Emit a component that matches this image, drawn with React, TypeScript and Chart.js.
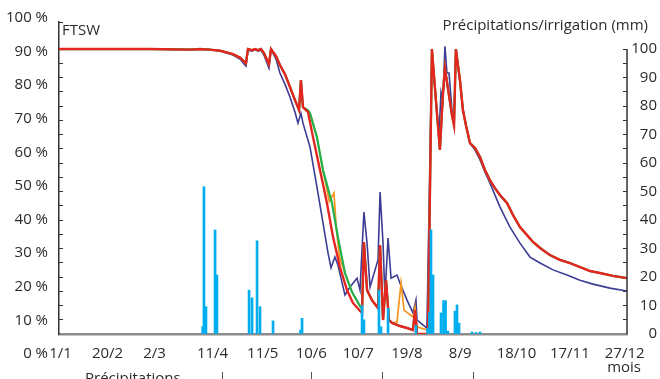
import { useEffect, useRef } from 'react';
import { Chart, registerables } from 'chart.js';

Chart.register(...registerables);

// ---- Data ----
const xTickDays = [1, 31, 61, 98, 130, 161, 191, 222, 256, 292, 326, 361];
const xTickLabels = ['1/1', '20/2', '2/3', '11/4', '11/5', '10/6', '10/7', '19/8', '8/9', '18/10', '17/11', '27/12'];
const leftTickValues = [0, 10, 20, 30, 40, 50, 60, 70, 80, 90, 100];
const rightTickValues = [0, 5, 10, 15, 20, 25, 30, 35, 40, 45, 50, 55, 60, 65, 70, 75, 80, 85, 90, 95, 100];

const ftswRed: [number, number][] = [
  [0, 100], [58, 100], [84, 99.8], [90, 100], [96, 99.8], [103, 99.4], [111, 98.2], [115.5, 97], [119.3, 95],
  [120.6, 100], [123.2, 99.6], [125.1, 100], [127, 99.6], [128.9, 100], [130.8, 98.6], [134, 94.7], [135.3, 100],
  [138.5, 97.5], [141, 94.4], [144.2, 91.2], [147.4, 86.7], [150.6, 82.1], [153.2, 78.6], [154.4, 89.1],
  [155.7, 79.6], [158.9, 77.9], [162.1, 69.1], [166.6, 57.5], [171, 46], [174.9, 34], [179.3, 23.5],
  [183.8, 15.4], [187.6, 10.9], [192.1, 8.1], [193.4, 7.4], [194.6, 32.3], [196.6, 15.4], [199.7, 11.9],
  [203.6, 9.1], [204.9, 31.2], [206.8, 4.9], [208.7, 18.9], [210.6, 4.9], [212.5, 3.9], [217.6, 2.8],
  [222.1, 2.1], [225.9, 1.4], [227.2, 8.4], [228.5, 0], [235.5, 0], [238, 100], [241.2, 77.5], [243.1, 64.6],
  [245, 83.9], [246.3, 93.3], [248.2, 86.3], [250.8, 76.8], [252.1, 73.3], [253.3, 100], [255.9, 89.1],
  [257.8, 78.6], [259.7, 73.3], [262.3, 67], [265.5, 65.3], [268.7, 62.1], [271.9, 57.5], [275, 54],
  [278.2, 51.2], [281.4, 48.8], [285.9, 46], [289.7, 41.8], [294.2, 37.5], [298.7, 34.7], [302.5, 32.3],
  [307, 30.2], [313.3, 27.7], [319.7, 26], [326.1, 24.9], [332.5, 23.5], [338.9, 22.1], [345.2, 21.4],
  [353.5, 20.4], [362.5, 19.6],
];

const ftswGreen: [number, number][] = [
  [0, 100], [58, 100], [84, 99.8], [90, 100], [96, 99.8], [103, 99.4], [111, 98.2], [115.5, 97], [119.3, 95],
  [120.6, 100], [123.2, 99.6], [125.1, 100], [127, 99.6], [128.9, 100], [130.8, 98.6], [134, 94.7], [135.3, 100],
  [138.5, 97.5], [141, 94.4], [144.2, 91.2], [147.4, 86.7], [150.6, 82.1], [153.2, 78.6], [154.4, 89.1],
  [155.7, 79.6], [158.9, 78.5], [160.2, 77.5], [164.6, 69.1], [168.5, 57.5], [174.2, 46], [178, 34],
  [182.5, 21.4], [187, 14.7], [192.1, 9.8], [193.4, 8.8], [194.6, 32.3], [196.6, 15.4], [199.7, 11.9],
  [203.6, 9.1], [204.9, 31.2], [206.8, 4.9], [208.7, 18.9], [210.6, 4.9], [212.5, 3.9], [217.6, 2.8],
  [222.1, 2.1], [225.9, 1.4], [227.2, 8.4], [228.5, 0], [235.5, 0], [238, 100], [241.2, 77.5], [243.1, 64.6],
  [245, 83.9], [246.3, 93.3], [248.2, 86.3], [250.8, 76.8], [252.1, 73.3], [253.3, 100], [255.9, 89.1],
  [257.8, 78.6], [259.7, 73.3], [262.3, 67], [265.5, 65.3], [268.7, 62.1], [271.9, 57.5], [275, 54],
  [278.2, 51.2], [281.4, 48.8], [285.9, 46], [289.7, 41.8], [294.2, 37.5], [298.7, 34.7], [302.5, 32.3],
  [307, 30.2], [313.3, 27.7], [319.7, 26], [326.1, 24.9], [332.5, 23.5], [338.9, 22.1], [345.2, 21.4],
  [353.5, 20.4], [362.5, 19.6],
];

const ftswOrange: [number, number][] = [
  [0, 100], [58, 100], [84, 99.8], [90, 100], [96, 99.8], [103, 99.4], [111, 98.2], [115.5, 97], [119.3, 95],
  [120.6, 100], [123.2, 99.6], [125.1, 100], [127, 99.6], [128.9, 100], [130.8, 98.6], [134, 94.7], [135.3, 100],
  [138.5, 97.5], [141, 94.4], [144.2, 91.2], [147.4, 86.7], [150.6, 82.1], [153.2, 78.6], [154.4, 89.1],
  [155.7, 79.6], [158.9, 78.5], [160.2, 77.5], [164.6, 69.1], [168.5, 57.5], [172.5, 46.5], [175.5, 49.5],
  [177, 37], [179, 27], [182.5, 21.4], [187, 14.7], [192.1, 9.8], [193.4, 8.8], [194.6, 32.3], [196.6, 15.4],
  [199.7, 11.9], [203.6, 9.1], [204.9, 31.2], [206.8, 4.9], [208.7, 18.9], [210.6, 4.9], [212.5, 3.9],
  [215.7, 4.2], [218.3, 17.9], [220.2, 8.4], [225.9, 6], [227.2, 9.5], [228.5, 2.5], [234.8, 1.4],
  [235.5, 1], [238, 100], [241.2, 77.5], [243.1, 64.6], [245, 83.9], [246.3, 93.3], [248.2, 86.3],
  [250.8, 76.8], [252.1, 73.3], [253.3, 100], [255.9, 89.1], [257.8, 78.6], [259.7, 73.3], [262.3, 67],
  [265.5, 65.3], [268.7, 62.1], [271.9, 57.5], [275, 54], [278.2, 51.2], [281.4, 48.8], [285.9, 46],
  [289.7, 41.8], [294.2, 37.5], [298.7, 34.7], [302.5, 32.3], [307, 30.2], [313.3, 27.7], [319.7, 26],
  [326.1, 24.9], [332.5, 23.5], [338.9, 22.1], [345.2, 21.4], [353.5, 20.4], [362.5, 19.6],
];

const ftswBlue: [number, number][] = [
  [0, 100], [58, 100], [84, 99.8], [90, 100], [96, 99.8], [102.7, 99.3], [111, 97.9], [115.5, 96.5],
  [119.3, 94], [120.6, 99.6], [123.2, 99.3], [125.1, 99.8], [127, 99.3], [128.9, 99.6], [130.8, 97.9],
  [134, 93.3], [135.3, 100], [138.5, 96.5], [141, 91.6], [144.2, 87.7], [147.4, 83.2], [150.6, 77.9],
  [152.5, 74], [154.4, 77.5], [155.7, 74], [160.2, 65.6], [164.6, 51.6], [168.5, 38.9], [171.7, 28.4],
  [173.6, 23.2], [176.1, 27], [178, 24.2], [182.5, 13.7], [185.7, 16.5], [190.2, 19.6], [192.1, 15.4],
  [194.6, 42.8], [196.6, 31.9], [198.5, 16.5], [203.6, 26], [204.9, 49.8], [206.8, 31.9], [208, 13],
  [210, 33.7], [211.9, 19.6], [215.7, 20.7], [217.6, 17.9], [222.1, 11.9], [225.9, 7.4], [227.8, 11.9],
  [228.5, 4.9], [234.8, 2.1], [238, 100], [241.2, 77.5], [242.5, 69.8], [243.8, 84.9], [245, 82.1],
  [246.3, 101], [247.6, 91.6], [248.9, 91.6], [250.8, 78.6], [252.1, 75.1], [253.3, 99.6], [255.9, 88.4],
  [257.8, 78.6], [259.7, 73.3], [262.3, 67], [265.5, 64.6], [268.7, 61.1], [271.9, 56.8], [275, 53],
  [281.4, 44.6], [287.8, 37.5], [294.2, 31.9], [300.6, 27], [307, 24.9], [315.3, 22.5], [324.2, 20.7],
  [332.5, 18.9], [340.8, 17.5], [351.6, 16.1], [362.5, 15.1],
];

const rainDays = [
  91.7, 92.5, 93.8, 99.6, 100.8, 121.3, 123.2, 126.4, 128.3, 136.6, 154.1, 155.1, 193.4, 194.6, 204.2,
  205.5, 210, 227.8, 235.2, 236.4, 237.4, 238.7, 243.8, 245.4, 246.7, 248.2, 252.7, 254, 255.3, 263.6,
  266.1, 268.7,
];
const rainMm = [
  2.6, 51.7, 9.6, 36.5, 20.7, 15.4, 12.7, 32.7, 9.6, 4.6, 1.4, 5.5, 10, 5, 15.4,
  2.5, 9, 3, 2, 7.5, 36.5, 20.7, 7.4, 11.7, 11.7, 1, 8, 10.2, 3.8, 0.7,
  0.5, 0.7,
];

const TEXT = '#2b2b2b';
const AXIS = '#333333';
const FONT = '"Open Sans", sans-serif';

const toXY = (arr: [number, number][]) => arr.map(([x, y]) => ({ x, y }));

const decorPlugin = {
  id: 'decor',
  afterDraw(chart: any) {
    const { ctx, chartArea, scales } = chart;
    const y2 = scales.y2;
    ctx.save();
    ctx.strokeStyle = AXIS;
    ctx.lineWidth = 1.5;
    ctx.beginPath();
    ctx.moveTo(y2.left, y2.getPixelForValue(0));
    ctx.lineTo(y2.left, y2.getPixelForValue(100));
    ctx.stroke();

    ctx.fillStyle = TEXT;
    ctx.font = `15px ${FONT}`;
    ctx.textBaseline = 'middle';
    ctx.textAlign = 'left';
    ctx.fillText('FTSW', chartArea.left + 3, 31);
    ctx.textAlign = 'right';
    ctx.fillText('Précipitations/irrigation (mm)', 648, 26);
    ctx.fillText('mois', 641, 368);
    ctx.textAlign = 'left';
    ctx.textBaseline = 'alphabetic';
    ctx.fillText('Précipitations', 85, 383);

    ctx.lineWidth = 1;
    ctx.strokeStyle = '#555';
    [222, 311, 382, 473].forEach((x) => {
      ctx.beginPath();
      ctx.moveTo(x + 0.5, 372);
      ctx.lineTo(x + 0.5, 379);
      ctx.stroke();
    });
    ctx.restore();
  },
};

export default function App() {
  const ref = useRef<HTMLCanvasElement>(null);

  useEffect(() => {
    Chart.defaults.font.family = FONT;
    Chart.defaults.font.size = 15;
    Chart.defaults.color = TEXT;

    const chart = new Chart(ref.current as HTMLCanvasElement, {
      type: 'line',
      data: {
        datasets: [
          {
            type: 'bar',
            label: 'Précipitations',
            data: rainDays.map((d, i) => ({ x: d, y: rainMm[i] })),
            backgroundColor: '#00aeef',
            borderWidth: 0,
            barThickness: 2,
            yAxisID: 'y2',
            order: 0,
          } as any,
          {
            label: 'FTSW rouge',
            data: toXY(ftswRed),
            borderColor: '#e3261f',
            borderWidth: 2.4,
            pointRadius: 0,
            tension: 0,
            yAxisID: 'y',
            order: 1,
          },
          {
            label: 'FTSW vert',
            data: toXY(ftswGreen),
            borderColor: '#22b04b',
            borderWidth: 2.2,
            pointRadius: 0,
            tension: 0,
            yAxisID: 'y',
            order: 2,
          },
          {
            label: 'FTSW orange',
            data: toXY(ftswOrange),
            borderColor: '#f7941e',
            borderWidth: 1.7,
            pointRadius: 0,
            tension: 0,
            yAxisID: 'y',
            order: 3,
          },
          {
            label: 'FTSW bleu',
            data: toXY(ftswBlue),
            borderColor: '#3c3c94',
            borderWidth: 1.6,
            pointRadius: 0,
            tension: 0,
            yAxisID: 'y',
            order: 4,
          },
        ],
      },
      options: {
        animation: false,
        responsive: false,
        events: [],
        layout: { padding: { top: 22, right: 3, left: 0, bottom: 0 } },
        plugins: { legend: { display: false }, tooltip: { enabled: false } },
        scales: {
          x: {
            type: 'linear',
            min: 0,
            max: 362.5,
            offset: false,
            afterFit: (s: any) => { s.height = 45; },
            afterBuildTicks: (s: any) => { s.ticks = xTickDays.map((v) => ({ value: v })); },
            ticks: {
              autoSkip: false,
              maxRotation: 0,
              padding: 11,
              color: TEXT,
              callback: (_v: any, i: number) => xTickLabels[i],
            },
            grid: { display: false, drawTicks: false },
            border: { color: '#8c8c8c', width: 2.5 },
          },
          y: {
            position: 'left',
            weight: 0,
            min: 0,
            max: 109.5,
            afterFit: (s: any) => { s.width = 0; },
            afterBuildTicks: (s: any) => {
              s.ticks = rightTickValues.map((v) => ({ value: v })).concat([{ value: 109.5 }]);
            },
            ticks: { display: false },
            grid: { drawOnChartArea: false, drawTicks: true, tickLength: -4, color: AXIS, lineWidth: 1 },
            border: { color: AXIS, width: 1.5 },
          },
          yLab: {
            position: 'left',
            weight: 1,
            min: 5.95,
            max: 98.8,
            afterFit: (s: any) => { s.width = 59; },
            afterBuildTicks: (s: any) => { s.ticks = leftTickValues.map((v) => ({ value: v })); },
            ticks: { autoSkip: false, padding: 11, color: TEXT, callback: (v: any) => `${v} %` },
            grid: { display: false, drawTicks: false },
            border: { display: false },
          },
          y2: {
            position: 'right',
            min: 0,
            max: 109.5,
            afterFit: (s: any) => { s.width = 30; },
            afterBuildTicks: (s: any) => { s.ticks = rightTickValues.map((v) => ({ value: v })); },
            ticks: {
              autoSkip: false,
              padding: 0,
              crossAlign: 'far',
              color: TEXT,
              callback: (v: any) => (v % 10 === 0 ? String(v) : ''),
            },
            grid: { drawOnChartArea: false, drawTicks: true, tickLength: -4, color: AXIS, lineWidth: 1 },
            border: { display: false },
          },
        } as any,
      },
      plugins: [decorPlugin],
    });
    return () => chart.destroy();
  }, []);

  return (
    <div style={{ position: 'fixed', left: 0, top: 0, width: 660, height: 379, background: '#fff' }}>
      <canvas ref={ref} width={660} height={379} style={{ display: 'block' }} />
    </div>
  );
}
